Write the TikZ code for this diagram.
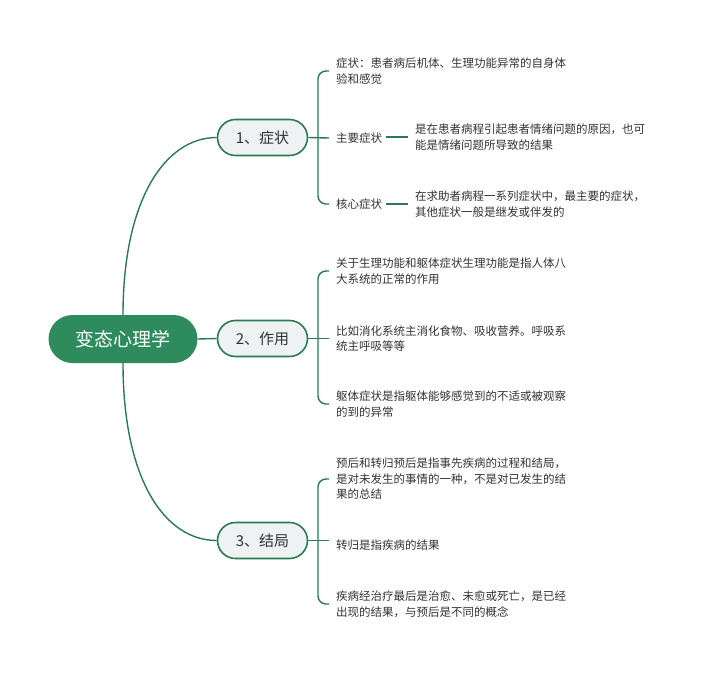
\documentclass[tikz,border=0pt]{standalone}
\usepackage{fontspec}
\setmainfont{Noto Sans CJK SC}
\definecolor{rootgreen}{HTML}{2E8B5E}
\definecolor{linegreen}{HTML}{2A7A52}
\definecolor{branchfill}{HTML}{EEF2F3}
\definecolor{txt}{HTML}{333333}
\tikzset{
  rootbox/.style={fill=rootgreen, draw=none, rounded corners=24pt, minimum width=149pt, minimum height=48pt, text=white, font=\fontsize{19}{22}\selectfont, inner sep=0pt},
  branchbox/.style={fill=branchfill, draw=linegreen, line width=1.6pt, rounded corners=18pt, minimum width=90pt, minimum height=36pt, text=txt, font=\fontsize{15}{18}\selectfont, inner sep=0pt},
  leaf/.style={anchor=west, align=left, inner sep=0pt, text=txt, font=\fontsize{11.5}{15.5}\selectfont},
  conn/.style={draw=linegreen, line width=1.4pt},
}
\begin{document}
\begin{tikzpicture}[x=1pt, y=-1pt]
\useasboundingbox[fill=white] (0,0) rectangle (704,675);
% root and branches
\node[rootbox] (root) at (123,339) {变态心理学};
\node[branchbox] (n1) at (262.5,137.5) {1、症状};
\node[branchbox] (n2) at (262.5,338.5) {2、作用};
\node[branchbox] (n3) at (262.5,540.5) {3、结局};
\draw[conn] (root.north) .. controls (123,200) and (165,137.5) .. (n1.west);
\draw[conn] (root.east) -- (n2.west);
\draw[conn] (root.south) .. controls (123,480) and (165,540.5) .. (n3.west);

% branch 1 leaves
\node[leaf] (l1a) at (336,71) {症状：患者病后机体、生理功能异常的自身体\\验和感觉};
\node[leaf] (l1b) at (336,138) {主要症状};
\node[leaf] (d1b) at (415,137) {是在患者病程引起患者情绪问题的原因，也可\\能是情绪问题所导致的结果};
\node[leaf] (l1c) at (336,204) {核心症状};
\node[leaf] (d1c) at (415,204) {在求助者病程一系列症状中，最主要的症状，\\其他症状一般是继发或伴发的};
\draw[conn] (n1.east) -- ([xshift=-7pt]l1b.west);
\draw[conn, rounded corners=8pt] ([xshift=-7pt]l1a.west) -| (318,137.5) |- ([xshift=-7pt]l1c.west);
\draw[conn] ([xshift=4pt]l1b.east |- d1b.west) -- ([xshift=-7pt]d1b.west);
\draw[conn] ([xshift=4pt]l1c.east |- d1c.west) -- ([xshift=-7pt]d1c.west);

% branch 2 leaves
\node[leaf] (l2a) at (336,271) {关于生理功能和躯体症状生理功能是指人体八\\大系统的正常的作用};
\node[leaf] (l2b) at (336,338.5) {比如消化系统主消化食物、吸收营养。呼吸系\\统主呼吸等等};
\node[leaf] (l2c) at (336,404) {躯体症状是指躯体能够感觉到的不适或被观察\\的到的异常};
\draw[conn] (n2.east) -- ([xshift=-7pt]l2b.west);
\draw[conn, rounded corners=8pt] ([xshift=-7pt]l2a.west) -| (318,338.5) |- ([xshift=-7pt]l2c.west);

% branch 3 leaves
\node[leaf] (l3a) at (336,479) {预后和转归预后是指事先疾病的过程和结局，\\是对未发生的事情的一种，不是对已发生的结\\果的总结};
\node[leaf] (l3b) at (336,545) {转归是指疾病的结果};
\node[leaf] (l3c) at (336,604) {疾病经治疗最后是治愈、未愈或死亡，是已经\\出现的结果，与预后是不同的概念};
\draw[conn] (n3.east) -- (329,540.5);
\draw[conn, rounded corners=8pt] ([xshift=-7pt]l3a.west) -| (318,540.5) |- ([xshift=-7pt]l3c.west);
\end{tikzpicture}
\end{document}
